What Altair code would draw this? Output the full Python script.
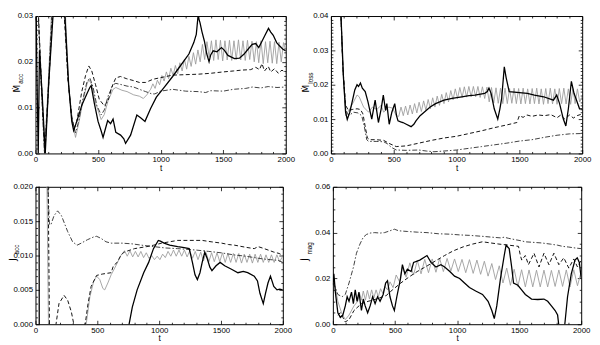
import altair as alt
import pandas as pd

# ---------------- data ----------------
# Panel 1: M_acc
p1_solid_t = [0, 10, 22, 32, 55, 78, 105, 140, 170, 210, 235, 265, 290, 305, 330, 370, 410, 434, 445, 470, 500, 525, 540, 560, 577, 600, 620, 642, 680, 706, 720, 760, 810, 840, 875, 920, 966, 1030, 1096, 1160, 1226, 1265, 1285, 1299, 1315, 1330, 1350, 1369, 1387, 1400, 1420, 1450, 1486, 1510, 1538, 1590, 1630, 1667, 1700, 1732, 1760, 1784, 1810, 1836, 1862, 1880, 1900, 1927, 1950, 1975, 2000]
p1_solid_y = [0.045, 0.02, 0.0, 0.0225, 0.012, 0.0, 0.015, 0.03, 0.04, 0.04, 0.03, 0.015, 0.007, 0.005, 0.007, 0.0105, 0.013, 0.0144, 0.0148, 0.011, 0.007, 0.0049, 0.0035, 0.0055, 0.0072, 0.0065, 0.0075, 0.0046, 0.004, 0.0032, 0.0022, 0.004, 0.0084, 0.0078, 0.007, 0.0098, 0.0123, 0.0145, 0.0168, 0.0192, 0.0217, 0.0242, 0.026, 0.030, 0.0285, 0.0266, 0.0245, 0.0217, 0.020, 0.0215, 0.0224, 0.0222, 0.0231, 0.0225, 0.0214, 0.0207, 0.0208, 0.0217, 0.0228, 0.0238, 0.024, 0.0231, 0.0245, 0.0259, 0.0273, 0.0265, 0.0258, 0.0242, 0.0235, 0.0228, 0.0224]
p1_dashed_t = [0, 40, 75, 100, 135, 160, 215, 230, 260, 290, 310, 330, 370, 400, 426, 450, 480, 510, 550, 580, 610, 642, 680, 730, 784, 830, 880, 940, 992, 1096, 1200, 1300, 1400, 1500, 1580, 1650, 1720, 1760, 1790, 1810, 1830, 1860, 1880, 1910, 1940, 1970, 2000]
p1_dashed_y = [0.045, 0.02, 0.0, 0.012, 0.03, 0.04, 0.04, 0.03, 0.016, 0.008, 0.0055, 0.007, 0.0135, 0.017, 0.0191, 0.018, 0.015, 0.0118, 0.0104, 0.0115, 0.0145, 0.0165, 0.0168, 0.0163, 0.0159, 0.0155, 0.0155, 0.0162, 0.0165, 0.0171, 0.0172, 0.0173, 0.0175, 0.0178, 0.018, 0.0182, 0.0183, 0.0188, 0.0183, 0.0196, 0.018, 0.019, 0.0178, 0.0185, 0.0175, 0.0182, 0.0175]
p1_dashdot_t = [0, 40, 72, 100, 130, 160, 220, 235, 260, 290, 320, 345, 380, 410, 434, 460, 490, 525, 550, 580, 620, 642, 690, 732, 784, 830, 880, 930, 954, 1000, 1096, 1200, 1300, 1360, 1400, 1500, 1580, 1680, 1732, 1800, 1860, 1930, 2000]
p1_dashdot_y = [0.045, 0.018, 0.0, 0.013, 0.03, 0.04, 0.04, 0.03, 0.016, 0.0075, 0.0045, 0.007, 0.012, 0.0155, 0.0165, 0.0145, 0.0105, 0.0084, 0.0095, 0.0125, 0.015, 0.0153, 0.015, 0.0147, 0.0145, 0.014, 0.0135, 0.013, 0.013, 0.0136, 0.014, 0.0136, 0.0135, 0.0133, 0.0137, 0.0136, 0.014, 0.0142, 0.0145, 0.0143, 0.0146, 0.0144, 0.0145]
p1_gray_t = [0, 40, 72, 100, 130, 160, 225, 240, 265, 295, 320, 345, 380, 410, 426, 450, 480, 525, 550, 580, 620, 642, 690, 732, 784, 830, 862, 890, 914,
             920, 938, 956, 974, 992, 1010, 1028, 1046, 1064, 1082, 1100, 1118, 1136, 1154, 1172, 1190, 1208, 1226, 1244, 1262, 1280, 1298, 1316, 1334, 1352, 1370, 1388, 1406, 1424, 1442, 1460, 1478, 1496, 1514, 1532, 1550, 1568, 1586, 1604, 1622, 1640, 1658, 1676, 1694, 1712, 1730, 1748, 1766, 1784, 1802, 1820, 1838, 1856, 1874, 1892, 1910, 1928, 1946, 1964, 1982, 2000]
p1_gray_y = [0.045, 0.02, 0.0, 0.014, 0.032, 0.04, 0.04, 0.03, 0.015, 0.007, 0.0035, 0.0065, 0.0115, 0.015, 0.0161, 0.015, 0.011, 0.0074, 0.0085, 0.0115, 0.014, 0.0144, 0.0138, 0.0135, 0.0128, 0.0125, 0.012, 0.0128, 0.0138,
             0.0140, 0.0152, 0.0142, 0.0160, 0.0150, 0.0170, 0.0158, 0.0178, 0.0163, 0.0186, 0.0170, 0.0192, 0.0174, 0.0198, 0.0180, 0.0206, 0.0184, 0.0212, 0.0190, 0.0220, 0.0195, 0.0226, 0.0200, 0.0238, 0.0205, 0.0244, 0.0210, 0.0246, 0.0203, 0.0248, 0.0205, 0.0247, 0.0202, 0.0246, 0.0204, 0.0247, 0.0203, 0.0246, 0.0205, 0.0248, 0.0204, 0.0246, 0.0203, 0.0247, 0.0205, 0.0245, 0.0200, 0.0244, 0.0198, 0.0246, 0.0196, 0.0244, 0.0198, 0.0245, 0.0197, 0.0244, 0.0196, 0.0243, 0.0200, 0.0242, 0.0225]

# Panel 2: M_loss
p2_solid_t = [0, 40, 78, 100, 117, 130, 150, 169, 190, 208, 220, 235, 250, 273, 295, 325, 352, 378, 400, 417, 435, 445, 464, 485, 508, 522, 534, 555, 573, 600, 638, 660, 677, 710, 742, 790, 833, 900, 964, 1042, 1100, 1146, 1224, 1245, 1258, 1275, 1300, 1328, 1345, 1359, 1380, 1395, 1419, 1480, 1563, 1620, 1693, 1771, 1797, 1820, 1850, 1870, 1890, 1914, 1935, 1950, 1979, 2000]
p2_solid_y = [0.06, 0.05, 0.042, 0.022, 0.012, 0.0099, 0.012, 0.015, 0.0185, 0.020, 0.0195, 0.0205, 0.019, 0.018, 0.015, 0.010, 0.0155, 0.009, 0.013, 0.017, 0.0125, 0.0145, 0.0085, 0.012, 0.0145, 0.011, 0.0095, 0.0092, 0.009, 0.0085, 0.0078, 0.0085, 0.0095, 0.011, 0.012, 0.0135, 0.0145, 0.0155, 0.016, 0.0165, 0.0168, 0.017, 0.0175, 0.018, 0.019, 0.0175, 0.013, 0.010, 0.013, 0.016, 0.0252, 0.022, 0.018, 0.0178, 0.0175, 0.017, 0.0165, 0.0155, 0.017, 0.0145, 0.010, 0.008, 0.013, 0.021, 0.0175, 0.016, 0.013, 0.013]
p2_dashed_t = [0, 78, 95, 117, 140, 170, 208, 235, 255, 272, 290, 310, 360, 420, 470, 520, 600, 700, 800, 900, 1000, 1100, 1200, 1300, 1400, 1480, 1500, 1530, 1560, 1600, 1650, 1700, 1750, 1800, 1830, 1860, 1900, 1930, 1960, 2000]
p2_dashed_y = [0.06, 0.042, 0.025, 0.014, 0.0125, 0.0128, 0.013, 0.0128, 0.0115, 0.008, 0.0045, 0.004, 0.004, 0.0038, 0.0028, 0.002, 0.0022, 0.003, 0.0038, 0.0045, 0.005, 0.0058, 0.0066, 0.0075, 0.0083, 0.009, 0.011, 0.0105, 0.0112, 0.0108, 0.0112, 0.011, 0.0113, 0.0104, 0.0112, 0.010, 0.0112, 0.0103, 0.011, 0.0115]
p2_dashdot_t = [0, 78, 95, 117, 130, 150, 180, 215, 245, 265, 285, 300, 360, 420, 450, 480, 520, 600, 700, 760, 820, 900, 1000, 1100, 1200, 1300, 1400, 1500, 1600, 1700, 1800, 1850, 1900, 2000]
p2_dashdot_y = [0.06, 0.042, 0.025, 0.013, 0.0115, 0.0112, 0.012, 0.0118, 0.011, 0.008, 0.004, 0.0035, 0.0035, 0.0034, 0.0028, 0.0018, 0.001, 0.0009, 0.001, 0.0007, 0.0005, 0.0007, 0.001, 0.0015, 0.002, 0.0025, 0.003, 0.0036, 0.004, 0.0047, 0.0053, 0.0055, 0.0057, 0.0058]
p2_gray_t = [0, 78, 95, 117, 150, 180, 208, 225, 260, 300, 330, 365, 400, 420, 460, 490, 521,
             540, 558, 576, 594, 612, 630, 648, 666, 684, 702, 720, 738, 756, 774, 792, 810, 828, 846, 864, 882, 900, 918, 936, 954, 972, 990, 1008, 1026, 1044, 1062, 1080, 1098, 1116, 1134, 1152, 1170, 1188, 1206, 1224, 1242, 1260, 1278, 1296, 1314, 1332, 1350, 1368, 1386, 1404, 1422, 1440, 1458, 1476, 1494, 1512, 1530, 1548, 1566, 1584, 1602, 1620, 1638, 1656, 1674, 1692, 1710, 1728, 1746, 1764, 1782, 1800, 1818, 1836, 1854, 1872, 1890, 1908, 1926, 1944, 1962, 1980, 2000]
p2_gray_y = [0.06, 0.042, 0.025, 0.011, 0.013, 0.015, 0.017, 0.0165, 0.0135, 0.012, 0.0135, 0.0128, 0.014, 0.012, 0.0135, 0.0132, 0.011,
             0.0108, 0.0135, 0.0110, 0.0138, 0.0112, 0.0141, 0.0115, 0.0145, 0.0118, 0.0149, 0.0122, 0.0153, 0.0126, 0.0157, 0.0130, 0.0162, 0.0135, 0.0167, 0.0140, 0.0172, 0.0145, 0.0177, 0.0150, 0.0183, 0.0156, 0.0188, 0.0160, 0.0192, 0.0163, 0.0194, 0.0164, 0.0195, 0.0165, 0.0195, 0.0165, 0.0195, 0.0163, 0.0194, 0.0160, 0.0193, 0.0150, 0.0192, 0.0147, 0.0191, 0.0146, 0.0190, 0.0145, 0.0190, 0.0145, 0.0189, 0.0146, 0.0190, 0.0145, 0.0189, 0.0144, 0.0190, 0.0145, 0.0188, 0.0144, 0.0189, 0.0145, 0.0190, 0.0144, 0.0188, 0.0143, 0.0189, 0.0145, 0.0190, 0.0144, 0.0188, 0.0143, 0.0189, 0.0145, 0.0190, 0.0144, 0.0188, 0.0143, 0.0189, 0.0145, 0.0188, 0.0150, 0.0165]

# Panel 3: J_acc
p3_solid_t = [0, 28, 31, 60, 400, 740, 757, 783, 822, 875, 915, 954, 993, 1010, 1040, 1085, 1150, 1190, 1243, 1269, 1290, 1309, 1330, 1348, 1369, 1390, 1410, 1427, 1460, 1493, 1530, 1585, 1637, 1680, 1716, 1769, 1795, 1815, 1842, 1860, 1880, 1900, 1927, 1953, 1975, 2000]
p3_solid_y = [0.04, 0.04, -0.01, -0.012, -0.012, -0.002, 0.0, 0.0025, 0.005, 0.0075, 0.009, 0.011, 0.0122, 0.0121, 0.0118, 0.0115, 0.0113, 0.0112, 0.011, 0.009, 0.0072, 0.0065, 0.0075, 0.009, 0.0105, 0.0095, 0.0083, 0.0078, 0.0085, 0.009, 0.0085, 0.008, 0.0075, 0.0077, 0.0075, 0.007, 0.0063, 0.0045, 0.003, 0.0045, 0.006, 0.007, 0.0055, 0.005, 0.0051, 0.005]
p3_dashed_t = [0, 100, 113, 125, 150, 166, 190, 231, 260, 290, 310, 330, 380, 402, 425, 450, 494, 540, 612, 630, 660, 690, 717, 800, 900, 954, 1020, 1085, 1150, 1217, 1280, 1348, 1420, 1506, 1560, 1611, 1700, 1769, 1800, 1850, 1927, 1970, 2000]
p3_dashed_y = [0.03, 0.025, 0.0, -0.003, -0.002, 0.0, 0.003, 0.0042, 0.0035, 0.0018, 0.0, -0.003, -0.003, 0.0, 0.003, 0.0055, 0.0071, 0.0073, 0.0075, 0.0085, 0.009, 0.010, 0.0105, 0.011, 0.0113, 0.0115, 0.0118, 0.012, 0.0122, 0.0122, 0.0122, 0.0122, 0.012, 0.0118, 0.0116, 0.0115, 0.0112, 0.011, 0.0113, 0.011, 0.0105, 0.0103, 0.010]
p3_dashdot_t = [0, 80, 100, 113, 125, 150, 179, 210, 260, 300, 336, 370, 420, 470, 494, 530, 570, 612, 700, 780, 860, 954, 1050, 1150, 1296, 1400, 1500, 1600, 1700, 1769, 1840, 1900, 1960, 2000]
p3_dashdot_y = [0.03, 0.025, 0.020, 0.0145, 0.0145, 0.0158, 0.0165, 0.0158, 0.0135, 0.012, 0.0115, 0.0118, 0.0123, 0.0127, 0.0128, 0.0125, 0.012, 0.0118, 0.0118, 0.0117, 0.0115, 0.0113, 0.0111, 0.011, 0.0108, 0.0106, 0.0104, 0.0101, 0.0099, 0.0097, 0.0095, 0.0094, 0.0093, 0.009]
p3_gray_t = [0, 90, 105, 120, 380, 410, 440, 470, 494, 520, 545, 560, 585, 612, 650, 690,
             720, 742, 764, 786, 808, 830, 852, 874, 896, 918, 940, 962, 984, 1006, 1028, 1050, 1072, 1094, 1116, 1138, 1160, 1182, 1204, 1226, 1248, 1270, 1292, 1314, 1336, 1358, 1380, 1402, 1424, 1446, 1468, 1490, 1512, 1534, 1556, 1578, 1600, 1622, 1644, 1666, 1688, 1710, 1732, 1754, 1776, 1798, 1820, 1842, 1864, 1886, 1908, 1930, 1952, 1974, 1996]
p3_gray_y = [0.03, 0.025, 0.0, -0.004, -0.003, 0.0, 0.004, 0.0062, 0.007, 0.0065, 0.0052, 0.005, 0.006, 0.0072, 0.0085, 0.010,
             0.0107, 0.0099, 0.0107, 0.0098, 0.0106, 0.0098, 0.0106, 0.0097, 0.0104, 0.0096, 0.0100, 0.0094, 0.0099, 0.0094, 0.0102, 0.0097, 0.0106, 0.0099, 0.0108, 0.0099, 0.0108, 0.0099, 0.0108, 0.0098, 0.0107, 0.0096, 0.0106, 0.0094, 0.0105, 0.0092, 0.0104, 0.0091, 0.0104, 0.0091, 0.0104, 0.0091, 0.0104, 0.0090, 0.0103, 0.0090, 0.0103, 0.0090, 0.0103, 0.0089, 0.0102, 0.0090, 0.0102, 0.0089, 0.0102, 0.0090, 0.0102, 0.0090, 0.0101, 0.0090, 0.0101, 0.0090, 0.0101, 0.0091, 0.0098]

# Panel 4: J_mag
p4_solid_t = [0, 8, 20, 40, 60, 80, 100, 115, 130, 150, 165, 180, 195, 210, 230, 245, 260, 280, 300, 320, 340, 360, 380, 405, 425, 440, 460, 480, 495, 515, 545, 560, 580, 600, 630, 650, 700, 758, 790, 830, 870, 900, 942, 980, 1021, 1060, 1100, 1150, 1205, 1250, 1280, 1300, 1320, 1350, 1380, 1395, 1420, 1440, 1455, 1490, 1520, 1550, 1575, 1600, 1650, 1700, 1730, 1760, 1790, 1810, 1825, 1850, 1868, 1890, 1920, 1950, 1968, 1985, 2000]
p4_solid_y = [0.017, 0.022, 0.014, 0.005, 0.003, 0.004, 0.008, 0.012, 0.010, 0.014, 0.009, 0.015, 0.010, 0.014, 0.006, 0.011, 0.008, 0.005, 0.008, 0.012, 0.009, 0.012, 0.010, 0.013, 0.018, 0.019, 0.012, 0.008, 0.006, 0.012, 0.020, 0.026, 0.022, 0.024, 0.023, 0.027, 0.028, 0.030, 0.027, 0.025, 0.026, 0.025, 0.023, 0.021, 0.020, 0.018, 0.016, 0.0145, 0.013, 0.010, 0.006, 0.0025, 0.008, 0.020, 0.030, 0.0345, 0.033, 0.025, 0.018, 0.017, 0.015, 0.013, 0.012, 0.011, 0.0108, 0.011, 0.010, 0.008, 0.006, 0.004, -0.003, -0.003, 0.0, 0.012, 0.022, 0.028, 0.029, 0.027, 0.020]
p4_dashed_t = [40, 60, 80, 100, 130, 170, 230, 284, 350, 429, 480, 547, 610, 679, 760, 837, 900, 968, 1050, 1126, 1205, 1270, 1337, 1420, 1495, 1510, 1521, 1550, 1575, 1620, 1660, 1700, 1740, 1780, 1820, 1860, 1900, 1940, 1970, 2000]
p4_dashed_y = [0.004, 0.005, 0.003, 0.001, 0.002, 0.006, 0.009, 0.010, 0.011, 0.0125, 0.015, 0.018, 0.0205, 0.023, 0.0255, 0.028, 0.030, 0.032, 0.0338, 0.035, 0.036, 0.0355, 0.035, 0.0345, 0.034, 0.030, 0.028, 0.030, 0.026, 0.031, 0.025, 0.031, 0.026, 0.031, 0.026, 0.029, 0.0245, 0.0285, 0.025, 0.028]
p4_dashdot_t = [0, 20, 40, 74, 100, 130, 166, 190, 218, 245, 271, 300, 337, 380, 416, 460, 495, 530, 600, 680, 758, 850, 950, 1021, 1100, 1200, 1284, 1350, 1380, 1416, 1480, 1520, 1547, 1600, 1679, 1750, 1811, 1850, 1900, 1950, 2000]
p4_dashdot_y = [0.018, 0.016, 0.013, 0.012, 0.013, 0.018, 0.025, 0.031, 0.035, 0.038, 0.0392, 0.0398, 0.040, 0.0398, 0.040, 0.0408, 0.0415, 0.0408, 0.0405, 0.0402, 0.040, 0.0395, 0.0393, 0.039, 0.0388, 0.0384, 0.038, 0.0377, 0.038, 0.0375, 0.0368, 0.0364, 0.036, 0.0358, 0.0355, 0.035, 0.0345, 0.034, 0.0337, 0.0333, 0.033]
p4_gray_t = [0, 20, 40, 70, 100, 130, 170, 200, 215, 230, 245, 262, 278, 295, 312, 330, 348, 366, 384, 402, 420, 440, 460, 485, 510, 537, 560, 590, 620, 650, 680, 710, 740, 770, 800, 830, 860, 890, 920, 950, 980, 1010, 1040, 1070, 1100, 1130, 1160, 1190, 1220, 1250, 1280, 1310, 1340, 1370, 1400, 1430, 1460, 1490, 1520, 1550, 1580, 1610, 1640, 1670, 1700, 1730, 1760, 1790, 1820, 1850, 1880, 1910, 1940, 1970, 2000]
p4_gray_y = [0.020, 0.016, 0.010, 0.005, 0.002, 0.004, 0.008, 0.010, 0.0135, 0.0105, 0.0145, 0.0105, 0.0148, 0.011, 0.015, 0.0115, 0.015, 0.012, 0.0155, 0.0135, 0.0165, 0.015, 0.0185, 0.016, 0.0215, 0.0185, 0.025, 0.0205, 0.0268, 0.0215, 0.0278, 0.022, 0.0283, 0.0225, 0.0285, 0.0227, 0.0287, 0.023, 0.0287, 0.0232, 0.0285, 0.023, 0.0283, 0.0225, 0.0282, 0.0222, 0.028, 0.0218, 0.0275, 0.021, 0.0265, 0.0195, 0.0255, 0.018, 0.0245, 0.017, 0.024, 0.0165, 0.0238, 0.0163, 0.0237, 0.0163, 0.0236, 0.0163, 0.0236, 0.0163, 0.0235, 0.0165, 0.0237, 0.0165, 0.0237, 0.0163, 0.0238, 0.0168, 0.023]

x_major = [0, 500, 1000, 1500, 2000]

FONT = "Liberation Sans"
STYLES = {
    "gray": dict(color="#9c9c9c", strokeWidth=0.9),
    "dashdot": dict(color="#2a2a2a", strokeWidth=0.9, strokeDash=[5, 2, 1.5, 2]),
    "dashed": dict(color="#111111", strokeWidth=1.0, strokeDash=[4, 2.5]),
    "solid": dict(color="#000000", strokeWidth=1.3),
}
H = 140


def tick_size(step, k):
    return {"expr": f"(abs(round(datum.value/{step}) % {k}) < 0.5 ? -4 : -2)"}


def panel(series, ymax, ystep, yk, yfmt, sym, sub, w, h, tx):
    xvals = list(range(0, 2001, 100))
    n = int(round(ymax / ystep))
    yvals = [round(i * ystep, 6) for i in range(n + 1)]
    ymaj = [round(i * ystep * yk, 6) for i in range(n // yk + 1)]
    xscale = alt.Scale(domain=[0, 2000], nice=False, zero=False)
    yscale = alt.Scale(domain=[0, ymax], nice=False, zero=False)
    xaxis = alt.Axis(values=x_major, ticks=False, format="d", labelPadding=2, labelFlush=False,
                     labelOverlap=False, title="t", titlePadding=0)
    yaxis = alt.Axis(values=ymaj, ticks=False, format=yfmt, labelPadding=3, labelFlush=False,
                     labelOverlap=False, title=None)
    layers = []
    first = True
    for name in ["gray", "dashdot", "dashed", "solid"]:
        t, v = series[name]
        df = pd.DataFrame({"t": t, "v": v})
        layers.append(
            alt.Chart(df).mark_line(clip=True, **STYLES[name]).encode(
                x=alt.X("t:Q", scale=xscale, axis=xaxis if first else None),
                y=alt.Y("v:Q", scale=yscale, axis=yaxis if first else None),
            )
        )
        first = False
    one = pd.DataFrame({"k": [0]})
    layers.append(alt.Chart(one).mark_text(text=sym, angle=270, font="DejaVu Sans", fontSize=9,
                                           align="center", baseline="middle", color="black").encode(
        x=alt.value(tx), y=alt.value(h / 2 + 4)))
    layers.append(alt.Chart(one).mark_text(text=sub, angle=270, font=FONT, fontSize=6.5,
                                           align="left", baseline="middle", color="black").encode(
        x=alt.value(tx + 4.5), y=alt.value(h / 2 - 1)))
    t, v = series["solid"]
    gdf = pd.DataFrame({"t": t, "v": v})
    for xo, yo in [("bottom", "left"), ("top", "right")]:
        layers.append(alt.Chart(gdf).mark_line(opacity=0, clip=True).encode(
            x=alt.X("t:Q", scale=xscale, axis=alt.Axis(orient=xo, values=xvals, tickSize=tick_size(100, 5),
                                                       labels=False, title=None)),
            y=alt.Y("v:Q", scale=yscale, axis=alt.Axis(orient=yo, values=yvals, tickSize=tick_size(ystep, yk),
                                                       labels=False, title=None)),
        ))
    return alt.layer(*layers).resolve_axis(x="independent", y="independent").properties(width=w, height=h)


p1 = panel({"solid": (p1_solid_t, p1_solid_y), "dashed": (p1_dashed_t, p1_dashed_y),
            "dashdot": (p1_dashdot_t, p1_dashdot_y), "gray": (p1_gray_t, p1_gray_y)},
           0.03, 0.001, 10, ".2f", "Ṁ", "acc", 255, H, -19)
p2 = panel({"solid": (p2_solid_t, p2_solid_y), "dashed": (p2_dashed_t, p2_dashed_y),
            "dashdot": (p2_dashdot_t, p2_dashdot_y), "gray": (p2_gray_t, p2_gray_y)},
           0.04, 0.001, 10, ".2f", "Ṁ", "loss", 256, H, -25)
p3 = panel({"solid": (p3_solid_t, p3_solid_y), "dashed": (p3_dashed_t, p3_dashed_y),
            "dashdot": (p3_dashdot_t, p3_dashdot_y), "gray": (p3_gray_t, p3_gray_y)},
           0.02, 0.001, 5, ".3f", "J\u0307", "acc", 252, H, -23)
p4 = panel({"solid": (p4_solid_t, p4_solid_y), "dashed": (p4_dashed_t, p4_dashed_y),
            "dashdot": (p4_dashdot_t, p4_dashdot_y), "gray": (p4_gray_t, p4_gray_y)},
           0.06, 0.005, 4, ".2f", "J\u0307", "mag", 253, H, -28)

chart = alt.vconcat(
    alt.hconcat(p1, p2, spacing=6),
    alt.hconcat(p3, p4, spacing=8),
    spacing=10,
).properties(padding=0).configure_view(stroke="black", strokeWidth=1).configure_axis(
    labelFont=FONT, labelFontSize=8, labelColor="black", tickColor="black", tickWidth=0.8,
    titleFont=FONT, titleFontSize=8.5, titleFontWeight="normal", titleColor="black",
    grid=False, domain=False, minExtent=0,
)

chart.save("out.html", embed_options={"renderer": "svg", "actions": False})
